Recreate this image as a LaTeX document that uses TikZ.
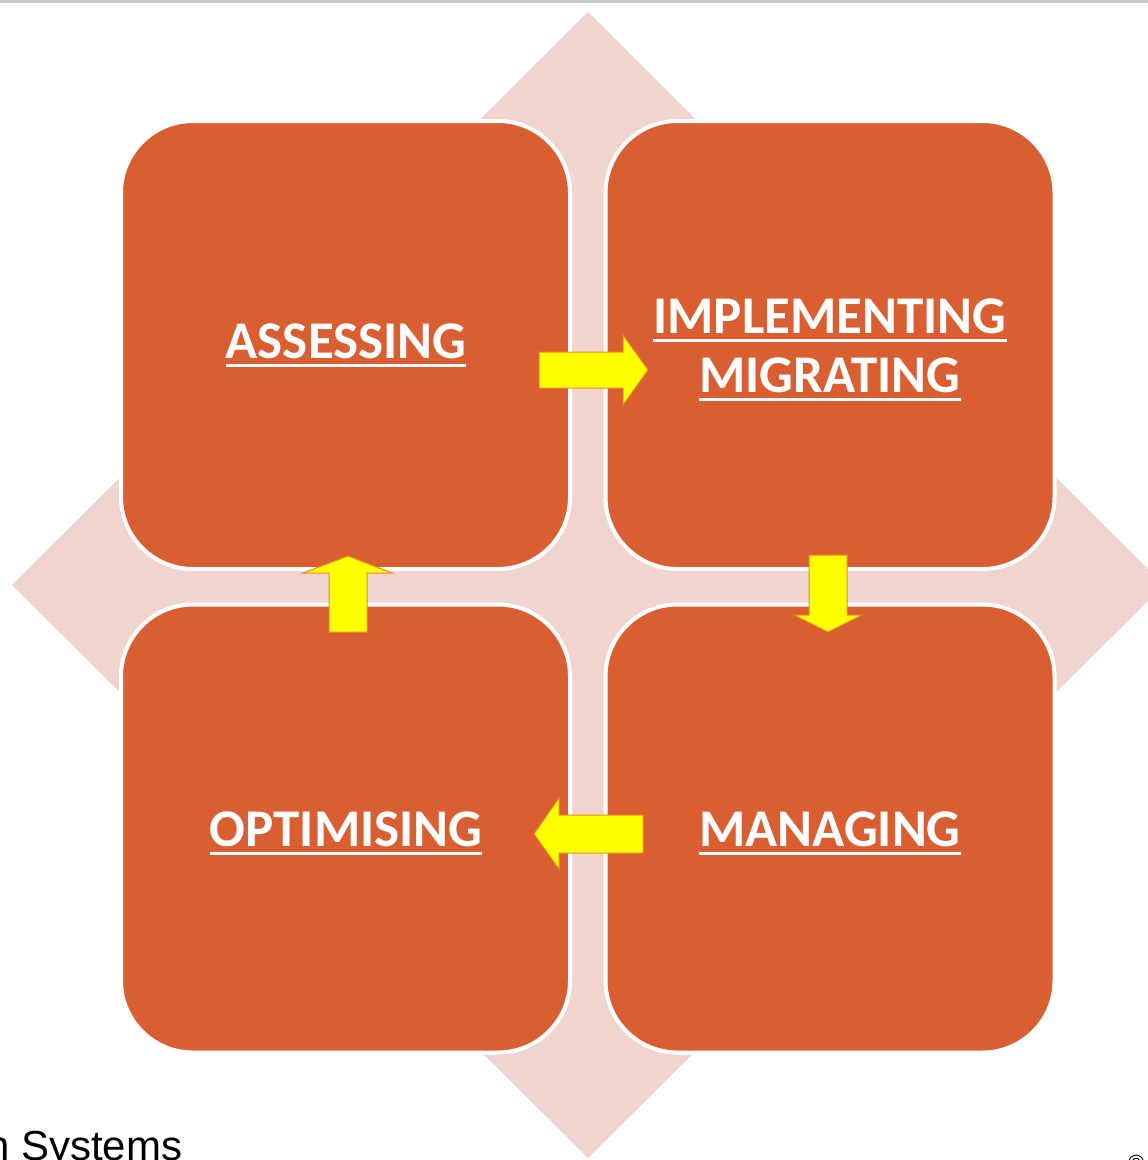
\documentclass[tikz,border=0pt]{standalone}
\usepackage{fontspec}
\setmainfont{Carlito}
\newfontfamily\arialf{Liberation Sans}
\definecolor{boxorange}{RGB}{217,95,50}
\definecolor{pinkbg}{RGB}{242,212,207}
\definecolor{arrowyellow}{RGB}{255,255,0}
\definecolor{arrowedge}{RGB}{232,140,40}
\definecolor{topline}{RGB}{200,200,200}
\newcommand\myul[1]{\leavevmode\setbox0\hbox{#1}\rlap{\raisebox{-9pt}{\rule{\wd0}{3pt}}}\box0}
\begin{document}
\begin{tikzpicture}[x=1pt,y=-1pt,
  box/.style={draw=white, line width=4pt, fill=boxorange, rounded corners=72pt,
    minimum width=449pt, minimum height=448pt, inner sep=0pt},
  lbl/.style={text=white, font=\fontsize{53}{59}\selectfont\bfseries, anchor=base, inner sep=0pt},
  blk/.style={fill=arrowyellow, draw=arrowedge, line width=1pt, line join=miter}]
\useasboundingbox (0,0) rectangle (1148,1160);
\fill[white] (0,0) rectangle (1148,1160);
\fill[topline] (0,0) rectangle (1148,3);
\fill[pinkbg] (588,12) -- (1164,585) -- (588,1158) -- (12,585) -- cycle;
\node[box] (assess) at (345.5,345) {};
\node[box] (impl) at (830,345) {};
\node[box] (optim) at (345.5,828.5) {};
\node[box] (manage) at (830,828.5) {};
\node[lbl] (tA) at (346,358) {\myul{ASSESSING}};
\node[lbl] (tI) at (830,333) {\myul{IMPLEMENTING}};
\node[lbl] (tM) at (830,392) {\myul{MIGRATING}};
\node[lbl] (tO) at (346,846) {\myul{OPTIMISING}};
\node[lbl] (tG) at (830,846) {\myul{MANAGING}};
% block arrows
\draw[blk] (539,352) -- (623,352) -- (623,335) -- (648,370) -- (623,405) -- (623,388) -- (539,388) -- cycle;
\draw[blk] (809,555) -- (847,555) -- (847,615) -- (862,615) -- (828,632) -- (794,615) -- (809,615) -- cycle;
\draw[blk] (643,815) -- (643,853) -- (559,853) -- (559,869) -- (534,834) -- (559,798) -- (559,815) -- cycle;
\draw[blk] (329,632) -- (367,632) -- (367,573) -- (392,573) -- (348,556) -- (303,573) -- (329,573) -- cycle;
\node[font=\arialf\fontsize{42}{50}\selectfont, anchor=base west, inner sep=0pt] (sys) at (-14,1160) {n Systems};
\node[font=\arialf\fontsize{22}{26}\selectfont, anchor=base west, inner sep=0pt] (copy) at (1128,1170) {©};
\end{tikzpicture}
\end{document}
